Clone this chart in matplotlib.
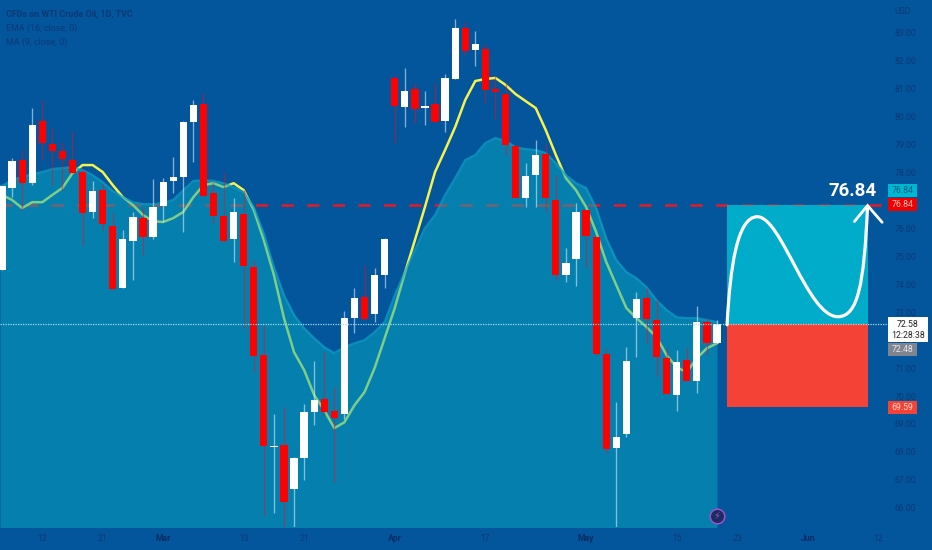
import matplotlib
matplotlib.use("Agg")
import matplotlib.pyplot as plt
from matplotlib.patches import Rectangle, PathPatch
from matplotlib.path import Path
from matplotlib.transforms import IdentityTransform

plt.rcParams['font.family'] = ['Roboto', 'DejaVu Sans']

opens = [74.51,77.45,78.45,77.62,79.85,79.02,78.77,78.45,78.02,76.59,77.37,76.08,73.86,75.55,76.37,75.69,76.80,77.70,77.84,79.81,
         80.45,77.27,76.44,75.62,76.51,74.62,71.46,68.17,68.24,66.66,67.77,69.42,69.89,69.46,69.35,72.79,73.54,72.93,74.33,81.39,
         80.35,80.99,80.31,80.45,79.85,81.35,83.18,82.39,82.42,80.99,80.81,78.95,77.09,77.91,78.66,77.02,74.33,74.90,76.66,75.69,
         71.50,68.13,68.63,72.79,73.51,72.72,71.36,70.03,71.28,70.53,72.65,71.89]
closes = [77.52,78.41,77.62,79.70,79.06,78.77,78.48,77.98,76.55,77.34,76.16,73.83,75.62,76.41,75.69,76.77,77.66,77.84,79.81,80.42,
          77.16,76.44,75.55,76.59,74.65,71.43,68.20,68.20,66.20,67.77,69.42,69.85,69.42,69.21,72.79,73.51,72.75,74.33,75.62,80.38,
          80.92,80.28,80.38,79.81,81.39,83.18,82.35,82.60,80.96,80.88,78.99,77.09,77.88,78.63,77.09,74.33,74.76,76.59,75.73,71.50,
          68.10,68.53,71.25,73.47,72.75,71.39,70.07,71.21,70.53,72.65,71.89,72.57]
highs = [77.52,78.52,78.81,80.31,80.60,79.60,79.09,79.49,78.16,77.70,77.59,76.55,75.94,76.59,76.77,77.77,77.80,78.56,79.85,80.60,
         80.85,77.66,77.98,77.09,77.37,74.87,72.54,69.35,69.60,67.81,69.71,71.25,71.57,70.32,73.04,73.86,74.69,74.58,75.65,81.53,
         81.74,81.21,80.92,81.21,81.53,83.50,83.39,83.07,82.60,81.46,81.21,78.95,78.34,79.17,79.02,77.91,75.30,76.91,76.66,75.73,
         71.71,69.78,71.75,73.72,73.86,73.43,71.71,71.64,71.71,73.22,72.79,72.72]
lows = [74.51,77.12,76.66,77.55,78.45,77.55,77.37,77.98,75.40,76.37,75.94,73.83,73.86,74.15,75.05,75.62,76.23,77.27,75.87,78.38,
        77.16,76.19,75.55,74.80,72.43,70.85,65.70,65.80,65.00,65.00,66.99,68.96,69.31,66.91,69.17,72.25,72.75,72.65,73.86,79.06,
        79.63,79.77,79.70,79.81,79.45,81.35,82.21,81.82,80.49,79.92,78.63,77.09,76.77,76.77,76.59,74.15,74.08,73.94,74.58,71.43,
        67.95,65.00,68.53,71.39,71.89,70.71,70.07,69.46,70.53,70.10,71.46,71.89]
ema16 = [77.52,77.73,77.84,77.95,78.02,78.13,78.16,78.20,78.09,77.91,77.66,77.34,77.12,76.94,76.87,76.87,76.91,77.02,77.37,77.70,
         77.73,77.70,77.62,77.48,77.30,76.77,75.83,74.62,73.61,72.90,72.43,72.07,71.75,71.54,71.75,71.89,72.00,72.29,72.65,73.61,
         74.44,75.23,76.01,76.48,77.20,77.80,78.45,78.63,79.06,79.24,79.13,78.91,78.84,78.81,78.70,78.34,77.91,77.62,77.45,76.73,
         75.65,74.87,74.44,74.22,73.90,73.43,73.08,72.82,72.79,72.79,72.72,72.65]
ma9 = [77.20,77.02,76.73,76.94,76.94,77.20,77.45,77.98,78.27,78.27,78.02,77.55,77.12,76.84,76.48,76.26,76.23,76.37,76.59,77.12,
       77.55,77.62,77.48,77.62,77.37,76.66,75.58,74.33,72.79,71.57,70.93,70.03,69.49,68.85,69.06,69.67,70.14,71.00,72.07,73.15,
       74.40,75.58,76.77,78.02,78.81,79.63,80.60,81.28,81.35,81.39,81.14,80.81,80.56,80.31,79.52,78.63,77.80,77.37,76.77,75.87,
       74.80,73.97,73.15,72.79,72.47,72.11,71.46,71.03,70.85,71.36,71.71,71.89]

target_price = 76.84
last_price = 72.58
ma_label = 72.48
stop_price = 69.59

y_ticks = [83,82,81,80,79,78,76,75,74,73,71,70,69,68,67,66]
x_tick_pos = [4,10,16,24,30,39,48,58,67,73,80,87]
x_tick_lab = ['13','21','Mar','13','21','Apr','17','May','15','23','Jun','12']
month_labels = {'Mar','Apr','May','Jun'}

BG = '#03559C'
TXT = '#0C3A75'
W, H = 932, 550
XMIN, XMAX = -0.199, 88.18

fig = plt.figure(figsize=(W/100, H/100), dpi=100, facecolor=BG)
ax = fig.add_axes([0, 23/H, 890/W, 527/H], facecolor=BG)
ax.set_xlim(XMIN, XMAX)
ax.set_ylim(65.31, 84.18)
for s in ax.spines.values():
    s.set_visible(False)

xs = list(range(len(opens)))
xs_ext = [XMIN] + xs

# under the area: target line and MA
ax.hlines(target_price, XMIN, XMAX, color='#D2202E', lw=2.0, linestyles=[(0, (4.4, 4.8))], zorder=1)
ax.plot(xs_ext, [ma9[0]] + ma9, color='#F6F24E', lw=1.8, zorder=1.5, solid_joinstyle='round')

# area
ax.fill_between(xs_ext, [ema16[0]] + ema16, 60, color='#07ABC0', alpha=0.5, lw=0, zorder=2)
ax.plot(xs_ext, [ema16[0]] + ema16, color='#10A0C6', lw=1.6, alpha=0.7, zorder=2.1)

# projection boxes
ax.add_patch(Rectangle((72, last_price), 14, target_price-last_price, fc='#00ACC9', ec='none', zorder=2.5))
ax.add_patch(Rectangle((72, stop_price), 14, last_price-stop_price, fc='#F44336', ec='none', zorder=2.5))

# candles
for i in xs:
    up = closes[i] >= opens[i]
    ax.vlines(i, lows[i], highs[i], color='#CFE9F8' if up else '#E81020', lw=0.95, alpha=0.62 if up else 0.5, zorder=3)
    bot, top = min(opens[i], closes[i]), max(opens[i], closes[i])
    ax.bar(i, top-bot, bottom=bot, width=0.72, color='#FFFFFF' if up else '#FF0000', lw=0, zorder=3.5)

# last price dotted line
ax.hlines(last_price, XMIN, XMAX, color='#9FDDF2', lw=0.9, linestyles=[(0, (1, 1))], zorder=4)

# hand-drawn curve
codes = [Path.MOVETO] + [Path.CURVE4]*9
verts = [(72.0, 72.55), (72.3, 74.6), (73.0, 76.42), (75.0, 76.42),
         (77.4, 76.42), (80.0, 72.84), (83.0, 72.84),
         (85.0, 72.84), (85.6, 74.0), (85.95, 76.78)]
ax.add_patch(PathPatch(Path(verts, codes), fc='none', ec='white', lw=2.3, zorder=5, capstyle='round'))
ax.plot([84.65, 85.95, 87.4], [76.25, 76.82, 76.22], color='white', lw=2.0, zorder=5, solid_joinstyle='miter', solid_capstyle='round')
ax.text(84.5, 77.35, '76.84', color='white', fontsize=13.5, fontweight='bold', ha='center', va='center', zorder=6)

# badge
ax.plot([71], [65.72], marker='o', ms=10.5, mfc='#1B2C63', mec='#A050C8', mew=1.1, zorder=6, clip_on=False)
ax.text(71, 65.72, '\u26a1', color='#A050C8', fontsize=7, ha='center', va='center', zorder=7, family=['DejaVu Sans'])

# axes
ax.set_xticks(x_tick_pos)
ax.set_xticklabels(x_tick_lab)
ax.yaxis.tick_right()
ax.set_yticks(y_ticks)
ax.set_yticklabels([f'{v:.2f}' for v in y_ticks])
ax.tick_params(axis='both', length=0, colors=TXT, labelsize=6.2)
ax.tick_params(axis='y', pad=3)
ax.tick_params(axis='x', pad=5)
for lab in ax.get_xticklabels():
    if lab.get_text() in month_labels:
        lab.set_fontweight('bold')
        lab.set_color('#0A2E63')

fig.text(903/W, 1-11/H, 'USD', color=TXT, fontsize=6.2, ha='center', va='center')

# legend text
leg = [('CFDs on WTI Crude Oil, 1D, TVC', 13.5, 'bold'), ('EMA (16, close, 0)', 28, 'normal'), ('MA (9, close, 0)', 42, 'normal')]
for t, yy, wt in leg:
    fig.text(6/W, 1-yy/H, t, color='#0C3A75', fontsize=6.4, fontweight=wt, ha='left', va='center')

# price labels
fig.canvas.draw()
def price_box(price, lines, fc, tc, width=29, height=13, dy=0):
    yc = ax.transData.transform((0, price))[1] + dy
    fig.add_artist(Rectangle((888, yc-height/2), width, height, fc=fc, ec='none', transform=IdentityTransform()))
    fig.text((888+width/2)/W, yc/H, lines, color=tc, fontsize=6.3, ha='center', va='center', linespacing=1.25)

price_box(target_price, '76.84', '#00B7D0', '#0B5E86', dy=14)
price_box(target_price, '76.84', '#F00000', '#FFC0B0')
price_box(last_price, '72.58\n12:28:38', '#FFFFFF', '#222222', width=40, height=25, dy=-6)
price_box(ma_label, '72.48', '#7F8590', '#E8E8E8', dy=-23)
price_box(stop_price, '69.59', '#F44336', '#FFD8D0')

fig.savefig('out.png', dpi=100, facecolor=BG)
